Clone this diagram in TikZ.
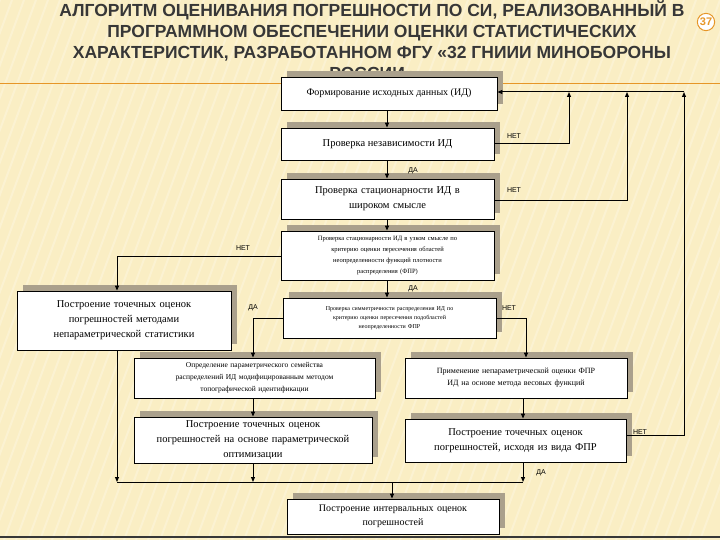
\documentclass[tikz,border=0pt]{standalone}
\usepackage{fontspec}
\setmainfont{Liberation Serif}
\newfontfamily\ttl{Liberation Sans}
\usetikzlibrary{arrows.meta}
\definecolor{bg}{RGB}{250,238,196}
\definecolor{shd}{RGB}{170,160,140}
\definecolor{ttlc}{RGB}{55,55,55}
\definecolor{org}{RGB}{230,150,40}
\begin{document}
\begin{tikzpicture}[x=1pt,y=-1pt,
 bx/.style={draw=black,fill=white,line width=0.8pt,align=center,inner sep=1pt},
 lab/.style={font=\fontsize{7}{8}\selectfont\ttl},
 ar/.style={-{Triangle[length=5pt,width=4pt]},line width=1pt},
 ln/.style={line width=1pt}]
\useasboundingbox (0,0) rectangle (720,540);
\fill[bg] (0,0) rectangle (720,540);
\foreach \i in {0,12,...,900}{\draw[white,opacity=0.25,line width=2pt] (\i,0) -- (\i-200,540);}
\draw[org,line width=1pt] (0,84) -- (720,84);
\draw[ttlc,line width=1.5pt] (0,537) -- (720,537);
\node[font=\fontsize{17.5}{21}\selectfont\ttl\bfseries,text=ttlc,align=center,inner sep=0pt] (title) at (372,40) {АЛГОРИТМ ОЦЕНИВАНИЯ ПОГРЕШНОСТИ ПО СИ, РЕАЛИЗОВАННЫЙ В\\ПРОГРАММНОМ ОБЕСПЕЧЕНИИ ОЦЕНКИ СТАТИСТИЧЕСКИХ\\ХАРАКТЕРИСТИК, РАЗРАБОТАННОМ ФГУ «32 ГНИИИ МИНОБОРОНЫ\\РОССИИ»};
\node[circle,draw=org,line width=1pt,fill=white,inner sep=1pt,font=\fontsize{11}{12}\selectfont\ttl\bfseries,text=org] (pg) at (706,22) {37};
% shadows
\foreach \a/\b/\c/\d in {281/77/497/110, 281/128/494/160, 281/179/494/219, 281/231/494/280, 17/291/231/350, 283/298/496/338, 134/358/375/398, 405/358/627/398, 134/417/372/463, 405/419/626/462, 287/499/499/534}
 \fill[shd] (\a+6,\b-6) rectangle (\c+6,\d-6);
\node[bx,minimum width=216pt,minimum height=33pt,font=\fontsize{10}{12}\selectfont] (b1) at (389,93.5) {Формирование исходных данных (ИД)};
\node[bx,minimum width=213pt,minimum height=32pt,font=\fontsize{10.5}{12}\selectfont] (b2) at (387.5,144) {Проверка независимости ИД};
\node[bx,minimum width=213pt,minimum height=40pt,text width=200pt,font=\fontsize{10.5}{15}\selectfont] (b3) at (387.5,199) {Проверка стационарности ИД в\\широком смысле};
\node[bx,minimum width=213pt,minimum height=49pt,text width=205pt,font=\fontsize{6.5}{11}\selectfont] (b4) at (387.5,255.5) {Проверка стационарности ИД в узком смысле по\\критерию оценки пересечения областей\\неопределенности функций плотности\\распределения (ФПР)};
\node[bx,minimum width=214pt,minimum height=59pt,text width=205pt,font=\fontsize{10.5}{15}\selectfont] (l1) at (124,320.5) {Построение точечных оценок\\погрешностей методами\\непараметрической статистики};
\node[bx,minimum width=213pt,minimum height=40pt,text width=205pt,font=\fontsize{6}{9}\selectfont] (b5) at (389.5,318) {Проверка симметричности распределения ИД по\\критерию оценки пересечения подобластей\\неопределенности ФПР};
\node[bx,minimum width=241pt,minimum height=40pt,text width=235pt,font=\fontsize{7.5}{12}\selectfont] (m1) at (254.5,378) {Определение параметрического семейства\\распределений ИД модифицированным методом\\топографической идентификации};
\node[bx,minimum width=222pt,minimum height=40pt,text width=218pt,font=\fontsize{8}{12}\selectfont] (r1) at (516,378) {Применение непараметрической оценки ФПР\\ИД на основе метода весовых функций};
\node[bx,minimum width=238pt,minimum height=46pt,text width=234pt,font=\fontsize{10.5}{15}\selectfont] (m2) at (253,440) {Построение точечных оценок\\погрешностей на основе параметрической\\оптимизации};
\node[bx,minimum width=221pt,minimum height=43pt,text width=218pt,font=\fontsize{10.5}{15}\selectfont] (r2) at (515.5,440.5) {Построение точечных оценок\\погрешностей, исходя из вида ФПР};
\node[bx,minimum width=212pt,minimum height=35pt,text width=208pt,font=\fontsize{10}{14}\selectfont] (bt) at (393,516.5) {Построение интервальных оценок\\погрешностей};
% coordinates
\coordinate (top) at (684,92);
\coordinate (j) at (392,482);
% main chain
\draw[ar] (b1.south -| 387,0) -- (b2.north -| 387,0);
\draw[ar] (b2.south -| 387,0) -- (b3.north -| 387,0);
\draw[ar] (b3.south -| 387,0) -- (b4.north -| 387,0);
\draw[ar] (b4.south -| 387,0) -- (b5.north -| 387,0);
% feedback
\draw[ar] (top) -- (b1.east |- top);
\draw[ar] (b2.east |- 0,144) -- (569,144) -- (569,92);
\draw[ar] (b3.east |- 0,201) -- (627,201) -- (627,92);
\draw[ar] (r2.east |- 0,435) -- (684,435) -- (top);
\draw[ar] (b4.west |- 0,256) -- (117,256) -- (l1.north -| 117,0);
\draw[ar] (b5.west |- 0,318) -- (253,318) -- (m1.north -| 253,0);
\draw[ar] (b5.east |- 0,318) -- (526,318) -- (r1.north -| 526,0);
\draw[ar] (m1.south -| 253,0) -- (m2.north -| 253,0);
\draw[ar] (r1.south -| 523,0) -- (r2.north -| 523,0);
\draw[ar] (l1.south -| 117,0) -- (117,482);
\draw[ar] (m2.south -| 253,0) -- (253,482);
\draw[ar] (r2.south -| 523,0) -- (523,482);
\draw[ln] (117,482) -- (523,482);
\draw[ar] (j) -- (bt.north -| j);
% labels
\node[lab] (n1) at (514,136) {НЕТ};
\node[lab] (n2) at (514,190) {НЕТ};
\node[lab] (d1) at (413,171) {ДА};
\node[lab] (n3) at (243,248) {НЕТ};
\node[lab] (d2) at (413,289) {ДА};
\node[lab] (d3) at (253,308) {ДА};
\node[lab] (n4) at (509,308) {НЕТ};
\node[lab] (n5) at (640,432) {НЕТ};
\node[lab] (d4) at (541,473) {ДА};
\end{tikzpicture}
\end{document}
